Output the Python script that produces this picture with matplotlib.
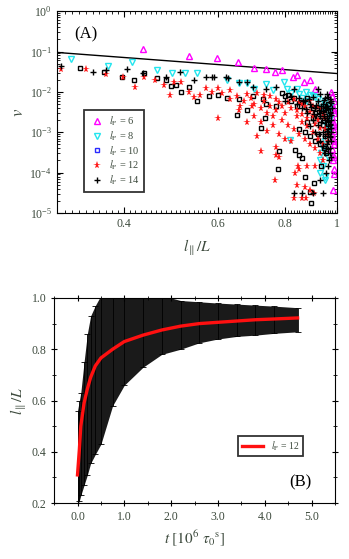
import matplotlib
matplotlib.use("Agg")
import matplotlib.pyplot as plt
from matplotlib.lines import Line2D
from matplotlib.ticker import LogLocator, MultipleLocator, NullFormatter, FixedLocator

plt.rcParams["font.family"] = ["Liberation Serif", "DejaVu Serif"]
plt.rcParams["mathtext.fontset"] = "stix"

TICK_COLOR = "#3d4a3d"

# ---- Panel A data: speed v vs l/L ----
line_x = [0.3, 1.0]
line_v = [0.095, 0.0285]

x6 = [0.434, 0.529, 0.596, 0.653, 0.699, 0.736, 0.765, 0.79, 0.826, 0.84, 0.866, 0.889, 0.908,
      0.975, 0.98, 0.985, 0.978, 0.983, 0.986, 0.979, 0.984, 0.981, 0.985, 0.978, 0.983,
      0.986, 0.98, 0.984, 0.982, 0.985, 0.983, 0.987, 0.988, 0.986, 0.988, 0.987]
v6 = [0.113, 0.076, 0.068, 0.054, 0.038, 0.036, 0.032, 0.034, 0.023, 0.026, 0.018, 0.02, 0.0115,
      0.01, 0.008, 0.006, 0.005, 0.004, 0.003, 0.0024, 0.0018, 0.0014, 0.0011, 9e-4, 7e-4,
      5e-4, 3.8e-4, 2.8e-4, 2e-4, 1.2e-4, 3.7e-5, 0.0035, 0.0016, 6e-4, 2.4e-4, 9e-5]

x8 = [0.319, 0.374, 0.414, 0.461, 0.492, 0.52, 0.547, 0.622, 0.657, 0.679, 0.738, 0.797,
      0.805, 0.84, 0.874, 0.86, 0.88, 0.9, 0.92, 0.93, 0.94, 0.95, 0.96, 0.965, 0.955,
      0.96, 0.95, 0.94, 0.935, 0.93, 0.94, 0.93, 0.95, 0.815, 0.95, 0.96, 0.70, 0.76, 0.82,
      0.85, 0.89, 0.91, 0.97, 0.97, 0.965]
v8 = [0.064, 0.043, 0.054, 0.034, 0.030, 0.030, 0.030, 0.02, 0.017, 0.017, 0.016, 0.018,
      0.0115, 0.0115, 0.0097, 0.007, 0.006, 0.008, 0.0065, 0.005, 0.004, 0.006, 0.003, 0.002,
      0.0015, 0.001, 6e-4, 4e-4, 3e-4, 2e-4, 1.5e-4, 1e-4, 6.6e-5, 6.6e-4, 8e-5, 2.5e-4,
      0.012, 0.011, 0.0095, 0.009, 0.0085, 0.0075, 0.0045, 0.0022, 0.0012]

x10 = [0.331, 0.368, 0.396, 0.418, 0.437, 0.48, 0.5, 0.512, 0.53, 0.547, 0.462, 0.49, 0.577,
       0.60, 0.622, 0.657, 0.696, 0.727, 0.738, 0.65, 0.733, 0.77, 0.68, 0.72, 0.78, 0.775,
       0.835, 0.85, 0.86, 0.87, 0.89, 0.895, 0.905, 0.80, 0.82, 0.84, 0.86, 0.88, 0.90, 0.91,
       0.92, 0.93, 0.94, 0.85, 0.87, 0.89, 0.91, 0.93, 0.88, 0.90, 0.92, 0.94, 0.95, 0.95,
       0.96, 0.96, 0.945, 0.955, 0.935, 0.79, 0.81, 0.83]
v10 = [0.04, 0.032, 0.023, 0.02, 0.030, 0.02, 0.015, 0.0102, 0.0135, 0.0058, 0.022, 0.0137,
       0.0077, 0.0085, 0.0072, 0.0065, 0.0077, 0.0065, 0.0049, 0.0027, 0.0023, 0.0044, 0.0036,
       0.0013, 3.4e-4, 1.2e-4, 3.7e-4, 2.8e-4, 2.3e-4, 7.7e-5, 3.4e-5, 1.8e-5, 5.5e-5, 0.008,
       0.006, 0.0045, 0.0055, 0.007, 0.004, 0.003, 0.0025, 0.002, 0.0015, 0.0012, 0.001, 8e-4,
       6e-4, 5e-4, 0.0018, 0.0022, 9e-4, 0.0035, 0.0025, 0.0008, 0.005, 0.0016, 4e-4, 3e-4,
       1.5e-4, 0.0095, 0.0085, 0.007]

x12 = [0.306, 0.34, 0.37, 0.398, 0.42, 0.436, 0.458, 0.475, 0.487, 0.497, 0.512, 0.53, 0.54,
       0.555, 0.57, 0.6, 0.585, 0.61, 0.63, 0.657, 0.68, 0.695, 0.71, 0.72, 0.765, 0.77, 0.78,
       0.77, 0.83, 0.84, 0.86, 0.875, 0.89, 0.905, 0.85, 0.87, 0.835, 0.845, 0.88,
       0.65, 0.67, 0.69, 0.70, 0.72, 0.73, 0.74, 0.75, 0.76, 0.77, 0.78, 0.79, 0.80, 0.81, 0.82,
       0.83, 0.84, 0.85, 0.86, 0.87, 0.88, 0.89, 0.90, 0.91, 0.92, 0.93, 0.94, 0.76, 0.74, 0.78,
       0.80, 0.82, 0.72, 0.70, 0.86, 0.88, 0.90, 0.92, 0.89, 0.66, 0.68, 0.63, 0.60, 0.75, 0.71,
       0.95, 0.94, 0.91, 0.84, 0.86, 0.87, 0.89, 0.91, 0.92, 0.93, 0.94, 0.95, 0.83, 0.81,
       0.79, 0.77, 0.73, 0.85, 0.88, 0.90, 0.93, 0.96, 0.96]
v12 = [0.036, 0.036, 0.027, 0.024, 0.0135, 0.024, 0.02, 0.015, 0.0086, 0.018, 0.018, 0.0097,
       0.0073, 0.0086, 0.0128, 0.0023, 0.01, 0.0095, 0.0065, 0.0036, 0.0018, 0.0045, 7.9e-4,
       3.4e-4, 6.6e-5, 2.8e-4, 2.5e-4, 4.4e-4, 2.3e-5, 5e-5, 2.3e-5, 2.3e-5, 3.7e-5, 3.2e-5,
       1.2e-4, 4.5e-5, 1.0e-4, 1.5e-4, 1.5e-4,
       0.008, 0.006, 0.007, 0.005, 0.004, 0.006, 0.003, 0.0045, 0.0025, 0.0035, 0.0055, 0.002,
       0.003, 0.0015, 0.004, 0.0012, 0.0025, 0.0009, 0.0018, 0.0007, 0.0014, 0.0005, 0.001,
       0.0004, 0.0007, 0.0003, 0.0005, 0.0015, 0.0011, 0.0009, 0.0007, 0.0006, 0.0018, 0.0025,
       0.005, 0.0035, 0.0025, 0.002, 0.006, 0.0045, 0.009, 0.011, 0.0125, 0.008, 0.0095,
       0.0012, 0.0002, 0.00015, 0.0035, 0.0028, 0.0045, 0.0032, 0.0016, 0.0042, 0.0013,
       0.0028, 0.0022, 0.0065, 0.0055, 0.0045, 0.0065, 0.0085, 0.0055, 0.0022, 0.0045, 0.0038,
       0.0009, 0.0006]

x14 = [0.305, 0.35, 0.37, 0.405, 0.434, 0.48, 0.51, 0.54, 0.57, 0.585, 0.62, 0.657, 0.696,
       0.738, 0.59, 0.625, 0.68, 0.77, 0.83, 0.92, 0.80, 0.82, 0.84, 0.85, 0.86, 0.87, 0.88,
       0.89, 0.90, 0.90, 0.91, 0.92, 0.92, 0.93, 0.93, 0.94, 0.94, 0.95, 0.95, 0.95, 0.96, 0.96,
       0.96, 0.97, 0.97, 0.97, 0.97, 0.965, 0.955, 0.945, 0.935, 0.925, 0.955, 0.965, 0.96,
       0.95, 0.94, 0.93, 0.91, 0.89, 0.83, 0.86, 0.90, 0.94, 0.93, 0.955, 0.975, 0.975, 0.975,
       0.98,
       0.958, 0.962, 0.968, 0.972, 0.958, 0.962, 0.968, 0.972, 0.958, 0.962, 0.968, 0.972,
       0.958, 0.962, 0.968, 0.972, 0.958, 0.962, 0.968, 0.972, 0.95, 0.945, 0.94, 0.935,
       0.93, 0.925, 0.915, 0.905, 0.895, 0.885, 0.875, 0.865]
v14 = [0.045, 0.032, 0.034, 0.036, 0.03, 0.023, 0.032, 0.02, 0.024, 0.024, 0.023, 0.018,
       0.0135, 0.0115, 0.023, 0.022, 0.018, 0.0135, 0.0115, 0.0115, 0.006, 0.008, 0.005, 0.007,
       0.004, 0.006, 0.003, 0.005, 0.0075, 0.002, 0.004, 0.006, 0.0015, 0.003, 0.009, 0.005,
       0.001, 0.007, 0.002, 0.0008, 0.004, 0.0012, 0.0006, 0.003, 0.0015, 0.0008, 0.0004,
       0.0025, 0.0035, 0.0025, 0.0018, 0.0009, 0.0004, 0.0002, 0.00015, 0.0003, 0.00045,
       0.0006, 0.001, 0.0014, 3.2e-5, 3.2e-5, 3.2e-5, 3.2e-5, 6.5e-5, 1e-4, 0.006, 0.002,
       0.001, 0.004,
       0.009, 0.0075, 0.0065, 0.0052, 0.0045, 0.0038, 0.0032, 0.0027, 0.0022, 0.0019, 0.0016,
       0.0013, 0.0011, 0.0009, 0.00075, 0.00062, 0.0005, 0.00038, 0.0003, 0.00024, 0.0042,
       0.0062, 0.0033, 0.0045, 0.0025, 0.0035, 0.0048, 0.0028, 0.0042, 0.0065, 0.0038, 0.0058]

# ---- Panel B data: l/L vs t (10^6 tau_0) ----
t_b = [0.0, 0.04, 0.07, 0.14, 0.21, 0.28, 0.38, 0.5, 0.75, 1.0, 1.4, 1.8, 2.2, 2.6, 3.0, 3.4,
       3.8, 4.2, 4.7]
mean_b = [0.31, 0.41, 0.50, 0.59, 0.645, 0.69, 0.735, 0.766, 0.80, 0.83, 0.855, 0.875, 0.89,
          0.90, 0.905, 0.91, 0.915, 0.918, 0.922]
low_b = [0.19, 0.21, 0.23, 0.27, 0.31, 0.355, 0.39, 0.43, 0.58, 0.66, 0.73, 0.78, 0.80, 0.825,
         0.84, 0.85, 0.855, 0.862, 0.868]
up_b = [0.56, 0.60, 0.63, 0.75, 0.86, 0.93, 0.97, 1.01, 1.02, 1.02, 1.02, 1.01, 0.99, 0.985,
        0.98, 0.976, 0.972, 0.968, 0.962]

fig = plt.figure(figsize=(3.49, 5.59), dpi=100)

# ---- (A) ----
ax = fig.add_axes([0.163, 0.619, 0.803, 0.361])
ax.plot(line_x, line_v, color="black", lw=1.0)
ms = 4.0
ax.plot(x6, v6, ls="none", marker="^", mfc="none", mec="#ff00ff", mew=1.0, ms=ms)
ax.plot(x8, v8, ls="none", marker="v", mfc="none", mec="#22e5ee", mew=1.0, ms=ms)
ax.plot(x10, v10, ls="none", marker="s", mfc="none", mec="black", mew=1.0, ms=ms - 0.5)
ax.plot(x12, v12, ls="none", marker="*", color="#ff1a1a", ms=ms + 1.8, mew=0)
ax.plot(x14, v14, ls="none", marker="+", color="black", mew=1.0, ms=ms + 0.6)

ax.set_xscale("log")
ax.set_yscale("log")
ax.set_xlim(0.3, 1.0)
ax.set_ylim(1e-5, 1)
ax.xaxis.set_major_locator(FixedLocator([0.4, 0.6, 0.8, 1.0]))
ax.set_xticklabels(["0.4", "0.6", "0.8", "1"])
ax.xaxis.set_minor_locator(MultipleLocator(0.01))
ax.xaxis.set_minor_formatter(NullFormatter())
ax.yaxis.set_major_locator(LogLocator(base=10, numticks=10))
ax.yaxis.set_minor_locator(LogLocator(base=10, subs=range(2, 10), numticks=10))
ax.yaxis.set_minor_formatter(NullFormatter())
ax.tick_params(which="both", direction="in", top=True, right=True, colors="black",
               labelcolor=TICK_COLOR, labelsize=8.5)
ax.tick_params(which="major", length=4)
ax.tick_params(which="minor", length=2)
ax.set_xlabel(r"$l_{\parallel}/L$", fontsize=11, color=TICK_COLOR, labelpad=6)
ax.set_ylabel(r"$v$", fontsize=12, color=TICK_COLOR, labelpad=2)
ax.text(0.104, 0.886, "(A)", transform=ax.transAxes, fontsize=12, ha="center", va="center")

handles = [
    Line2D([], [], ls="none", marker="^", mfc="none", mec="#ff00ff", mew=1.0, ms=ms),
    Line2D([], [], ls="none", marker="v", mfc="none", mec="#22e5ee", mew=1.0, ms=ms),
    Line2D([], [], ls="none", marker="s", mfc="none", mec="#2a2aff", mew=1.0, ms=ms - 0.5),
    Line2D([], [], ls="none", marker="*", color="#ff1a1a", ms=ms + 1.8, mew=0),
    Line2D([], [], ls="none", marker="+", color="black", mew=1.0, ms=ms + 0.6),
]
labels = [r"$l_{\rm P}$ = 6", r"$l_{\rm P}$ = 8", r"$l_{\rm P}$ = 10",
          r"$l_{\rm P}$ = 12", r"$l_{\rm P}$ = 14"]
leg = ax.legend(handles, labels, loc="lower left", bbox_to_anchor=(0.095, 0.105),
                fontsize=7.5, frameon=True, fancybox=False, edgecolor="black",
                handletextpad=0.4, handlelength=1.6, borderpad=0.45, labelspacing=0.12,
                borderaxespad=0.0, labelcolor=TICK_COLOR)
leg.get_frame().set_linewidth(1.3)

# ---- (B) ----
bx = fig.add_axes([0.155, 0.100, 0.805, 0.367])
bx.fill_between(t_b, low_b, up_b, color="#1a1a1a", lw=0)
err_lo = [m - lo for m, lo in zip(mean_b, low_b)]
err_hi = [hi - m for m, hi in zip(mean_b, up_b)]
bx.errorbar(t_b, mean_b, yerr=[err_lo, err_hi], fmt="none", ecolor="black",
            elinewidth=0.6, capsize=2.5, capthick=0.6)
bx.plot(t_b, mean_b, color="#ff1010", lw=2.4, label=r"$l_{\rm P}$ = 12")
bx.set_xlim(-0.5, 5.5)
bx.set_ylim(0.2, 1.0)
bx.xaxis.set_major_locator(MultipleLocator(1.0))
bx.xaxis.set_minor_locator(MultipleLocator(0.5))
bx.yaxis.set_major_locator(MultipleLocator(0.2))
bx.yaxis.set_minor_locator(MultipleLocator(0.1))
bx.xaxis.set_major_formatter(plt.FormatStrFormatter("%.1f"))
bx.yaxis.set_major_formatter(plt.FormatStrFormatter("%.1f"))
bx.tick_params(which="both", direction="inout", top=True, right=True,
               labelcolor=TICK_COLOR, labelsize=8.5)
bx.tick_params(which="major", length=4)
bx.tick_params(which="minor", length=3)
bx.set_xlabel(r"$t\ [10^6\ \tau_0{}^{\rm s}]$", fontsize=11, color=TICK_COLOR, labelpad=4)
bx.set_ylabel(r"$l_{\parallel}/L$", fontsize=11, color=TICK_COLOR, labelpad=2)
bx.text(0.875, 0.10, "(B)", transform=bx.transAxes, fontsize=12, ha="center", va="center")
leg2 = bx.legend(loc="lower left", bbox_to_anchor=(0.655, 0.229), fontsize=7,
                 frameon=True, fancybox=False, edgecolor="black", handlelength=2.2,
                 borderpad=0.35, borderaxespad=0.0, labelcolor=TICK_COLOR)
leg2.get_frame().set_linewidth(1.3)

fig.savefig("out.png", dpi=100)
